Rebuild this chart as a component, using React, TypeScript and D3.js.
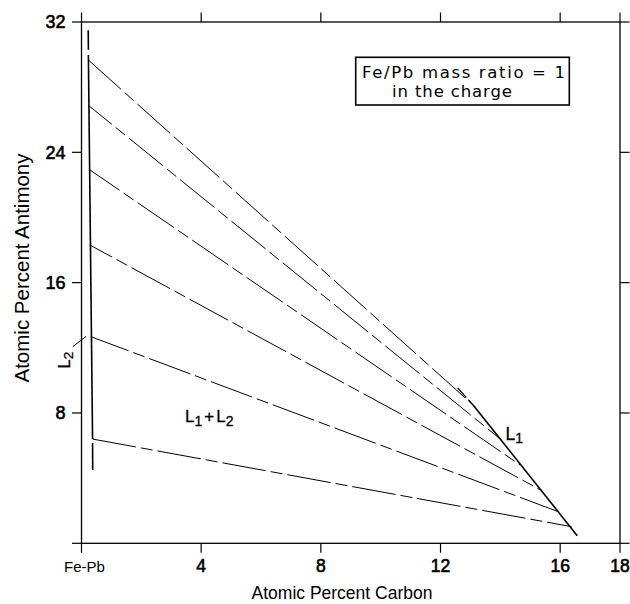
import React, { useEffect } from 'react';
import * as d3 from 'd3';

// axis ticks
const xTicks = [0, 4, 8, 12, 16, 18];
const xTickLabels = ['Fe-Pb', '4', '8', '12', '16', '18'];
const yTicks = [0, 8, 16, 24, 32];
const yTickLabels = ['', '8', '16', '24', '32'];

// tie lines: L2 end (Fe-Pb rich side) -> L1 end
const tieStartX = [0.227, 0.26, 0.28, 0.32, 0.32, 0.37];
const tieStartY = [29.67, 26.84, 22.92, 18.27, 12.68, 6.4];
const tieEndX = [13.09, 14.04, 14.66, 15.35, 15.94, 16.38];
const tieEndY = [8.49, 6.34, 4.81, 3.27, 1.94, 1.02];

// L2 boundary (solid part + dashed extensions)
const l2X = [0.23, 0.37];
const l2Y = [29.97, 6.4];
const l2TopX = [0.225, 0.23];
const l2TopY = [31.5, 30.3];
const l2BottomX = [0.37, 0.375];
const l2BottomY = [6.15, 4.5];

// L1 boundary
const l1X = [13.09, 16.57];
const l1Y = [8.49, 0.47];
const l1ExtX = [12.57, 13.09];
const l1ExtY = [9.54, 8.49];

const legendLines = ['Fe/Pb mass ratio = 1', 'in the charge'];

const W = 630;
const H = 604;

export default function App() {
  useEffect(() => {
    document.body.style.margin = '0';
  }, []);

  const x = d3.scaleLinear().domain([0, 18]).range([81.5, 620]);
  const y = d3.scaleLinear().domain([0, 32]).range([543.3, 22]);

  const line = d3
    .line<[number, number]>()
    .x(d => x(d[0]))
    .y(d => y(d[1]));

  const pts = (xs: number[], ys: number[]) => xs.map((v, i) => [v, ys[i]] as [number, number]);

  const tick = 9.5;
  const font = 'Arial, "Liberation Sans", Helvetica, sans-serif';
  const x0 = x(0), x1 = x(18), y0 = y(0), y1 = y(32);
  const tieOffsets = [0, 15, 8, 20, 4, 0];

  return (
    <svg width={W} height={H} style={{ display: 'block', background: '#fff' }} fontFamily={font}>
      {/* frame */}
      <rect x={x0} y={y1} width={x1 - x0} height={y0 - y1} fill="none" stroke="#000" strokeWidth={1.3} />

      {/* x ticks, bottom and top */}
      {xTicks.map(t => (
        <g key={'xt' + t}>
          <line x1={x(t)} x2={x(t)} y1={y0} y2={y0 + tick} stroke="#000" strokeWidth={1.2} />
          <line x1={x(t)} x2={x(t)} y1={y1} y2={y1 - tick} stroke="#000" strokeWidth={1.2} />
        </g>
      ))}
      {/* y ticks, left and right */}
      {yTicks.map(t => (
        <g key={'yt' + t}>
          <line x1={x0} x2={x0 - tick} y1={y(t)} y2={y(t)} stroke="#000" strokeWidth={1.2} />
          <line x1={x1} x2={x1 + tick} y1={y(t)} y2={y(t)} stroke="#000" strokeWidth={1.2} />
        </g>
      ))}

      {/* tick labels */}
      {xTicks.map((t, i) =>
        i === 0 ? (
          <text key={'xl' + t} x={x(t) + 3} y={571.7} textAnchor="middle" fontSize={15}>
            {xTickLabels[i]}
          </text>
        ) : (
          <text key={'xl' + t} x={x(t)} y={571.7} textAnchor="middle" fontSize={17.5}
            stroke="#000" strokeWidth={0.6}>
            {xTickLabels[i]}
          </text>
        )
      )}
      {yTicks.map((t, i) => (
        <text key={'yl' + t} x={65.5} y={y(t)} dy="0.36em" textAnchor="end" fontSize={18}
          stroke="#000" strokeWidth={0.6}>
          {yTickLabels[i]}
        </text>
      ))}

      {/* axis titles */}
      <text x={342} y={599} textAnchor="middle" fontSize={17.5}>
        Atomic Percent Carbon
      </text>
      <text transform="translate(28.5,268) rotate(-90)" textAnchor="middle" fontSize={20.5}>
        Atomic Percent Antimony
      </text>

      {/* tie lines */}
      {tieStartX.map((_, i) => (
        <path
          key={'tie' + i}
          d={line([[tieStartX[i], tieStartY[i]], [tieEndX[i], tieEndY[i]]]) || ''}
          fill="none"
          stroke="#000"
          strokeWidth={1}
          strokeDasharray="44,5,12,5"
          strokeDashoffset={tieOffsets[i]}
        />
      ))}

      {/* L2 boundary */}
      <path d={line(pts(l2X, l2Y)) || ''} fill="none" stroke="#000" strokeWidth={1.6} />
      <path d={line(pts(l2TopX, l2TopY)) || ''} fill="none" stroke="#000" strokeWidth={1.6} />
      <path d={line(pts(l2BottomX, l2BottomY)) || ''} fill="none" stroke="#000" strokeWidth={1.6} />

      {/* L1 boundary */}
      <path d={line(pts(l1X, l1Y)) || ''} fill="none" stroke="#000" strokeWidth={1.6} />
      <path d={line(pts(l1ExtX, l1ExtY)) || ''} fill="none" stroke="#000" strokeWidth={1.2}
        strokeDasharray="13,3" />

      {/* region labels */}
      <text x={185} y={422} fontSize={17} stroke="#000" strokeWidth={0.3}>
        L<tspan fontSize={14} dy={4}>1</tspan>
        <tspan dy={-4} dx={2}>+</tspan>
        <tspan dx={2}>L</tspan>
        <tspan fontSize={14} dy={4}>2</tspan>
      </text>
      <text x={505.5} y={440} fontSize={17.5} stroke="#000" strokeWidth={0.3}>
        L<tspan fontSize={14} dy={3}>1</tspan>
      </text>
      <text transform="translate(69.5,368.5) rotate(-90)" fontSize={16.5} stroke="#000" strokeWidth={0.3}>
        L<tspan fontSize={13.5} dy={3}>2</tspan>
      </text>
      <line x1={72.7} y1={346.7} x2={86} y2={336.5} stroke="#000" strokeWidth={1} />

      {/* note box */}
      <rect x={355.7} y={57.3} width={213.6} height={47.7} fill="#fff" stroke="#000" strokeWidth={1.6} />
      <text x={362} y={78.3} fontSize={16.5} textLength={203} lengthAdjust="spacing"
        fontFamily='"DejaVu Sans", sans-serif'>
        {legendLines[0]}
      </text>
      <text x={392} y={96.5} fontSize={16.5} textLength={120} lengthAdjust="spacing"
        fontFamily='"DejaVu Sans", sans-serif'>
        {legendLines[1]}
      </text>
    </svg>
  );
}
